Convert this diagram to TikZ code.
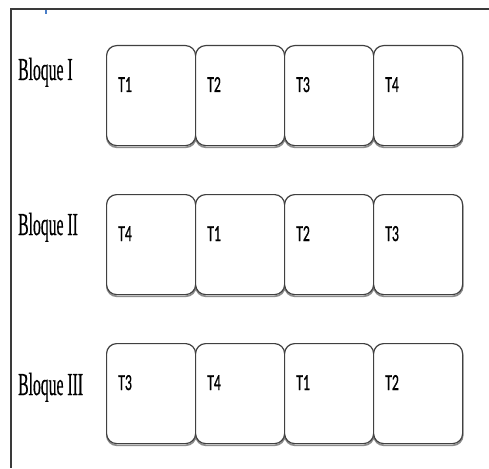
\documentclass[tikz,border=0pt]{standalone}
\usepackage{fontspec}
\newfontfamily\lblfont[FakeBold=0.7]{Liberation Serif}
\newfontfamily\tfont[FakeBold=0.9]{Carlito}
\definecolor{frame}{HTML}{3A3A3A}
\definecolor{boxline}{HTML}{404040}
\definecolor{tick}{HTML}{4A7EC8}
\tikzset{
  slot/.style={draw=boxline, line width=1.2pt, rounded corners=10pt, fill=white,
    minimum width=89pt, minimum height=100pt, inner sep=0pt, anchor=north west},
  slotshadow/.style={draw=black!45, line width=1.6pt, rounded corners=10pt,
    minimum width=89pt, minimum height=100pt, inner sep=0pt, anchor=north west},
  tlabel/.style={anchor=base west, inner sep=0pt, font=\tfont\fontsize{23}{23}\selectfont},
  blabel/.style={anchor=base west, inner sep=0pt, font=\lblfont\fontsize{32}{32}\selectfont},
}
\newcommand{\Tx}[1]{\scalebox{0.6}[1]{#1}}
\newcommand{\Bx}[1]{\scalebox{0.49}[1]{#1}}
\begin{document}
\begin{tikzpicture}[x=1pt,y=-1pt]
\useasboundingbox (0,0) rectangle (489,468);
\fill[white] (0,0) rectangle (489,468);
% frame
\coordinate (ftl) at (11,9);
\coordinate (ftr) at (489,9);
\coordinate (fbl) at (11,468);
\draw[frame, line width=1.5pt] (10,9) -- (ftr);
\draw[frame, line width=1.5pt] (ftl) -- (fbl);
\coordinate (tk1) at (46,10);
\coordinate (tk2) at (46,14);
\draw[tick, line width=2pt] (tk1) -- (tk2);
% row labels
\node[blabel] (L1) at (18,80) {\Bx{Bloque I}};
\node[blabel] (L2) at (18,235) {\Bx{Bloque II}};
\node[blabel] (L3) at (18,395) {\Bx{Bloque III}};
% boxes
\foreach \r/\y/\a/\b/\c/\d in {1/45/T1/T2/T3/T4, 2/194/T4/T1/T2/T3, 3/343/T3/T4/T1/T2}{
  \foreach \k/\x/\t in {1/106/\a, 2/195/\b, 3/284/\c, 4/373/\d}{
    \node[slotshadow] (S\r\k) at (\x,\y+1.5) {};
  }
  \foreach \k/\x/\t in {1/106/\a, 2/195/\b, 3/284/\c, 4/373/\d}{
    \node[slot] (B\r\k) at (\x,\y) {};
    \node[tlabel] (T\r\k) at ([xshift=12pt,yshift=-47pt]B\r\k.north west) {\Tx{\t}};
  }
}
\end{tikzpicture}
\end{document}
